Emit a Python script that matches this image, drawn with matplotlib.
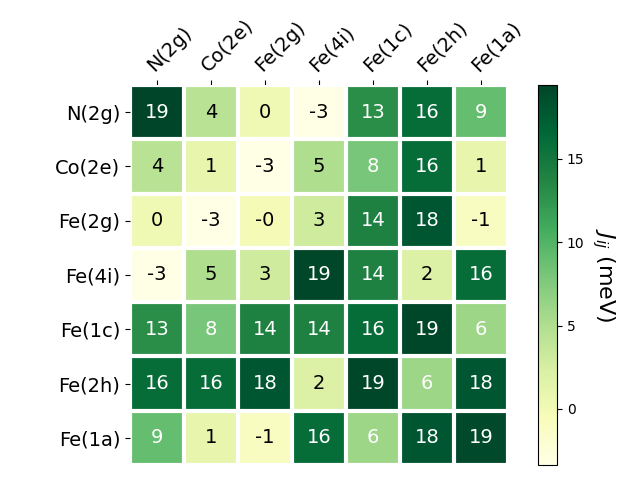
import numpy as np
import matplotlib
matplotlib.use("Agg")
import matplotlib.pyplot as plt

# サイト名
sites = ["N(2g)", "Co(2e)", "Fe(2g)", "Fe(4i)", "Fe(1c)", "Fe(2h)", "Fe(1a)"]

# 交換相互作用 J_ij (meV)
jij = np.array([
    [19.44, 4.3, 0.2, -3.3, 13.0, 16.0, 9.0],
    [4.3, 1.0, -3.36, 5.0, 8.0, 16.0, 1.0],
    [0.2, -3.36, -0.3, 3.0, 14.0, 18.0, -1.0],
    [-3.3, 5.0, 3.0, 19.3, 14.0, 2.0, 16.0],
    [13.0, 8.0, 14.0, 14.0, 16.0, 19.3, 6.0],
    [16.0, 16.0, 18.0, 2.0, 19.3, 6.0, 18.0],
    [9.0, 1.0, -1.0, 16.0, 6.0, 18.0, 19.0],
])

fig = plt.figure(figsize=(6.4, 4.8), dpi=100)
ax = fig.add_axes([130 / 640, 15 / 480, 378 / 640, 380 / 480])
cax = fig.add_axes([538 / 640, 15 / 480, 19 / 640, 380 / 480])

im = ax.imshow(jij, cmap="YlGn", aspect="auto")
cbar = fig.colorbar(im, cax=cax)
cbar.ax.set_ylabel("$J_{ij}$ (meV)", rotation=-90, va="bottom", fontsize=16)

ax.set_xticks(np.arange(len(sites)))
ax.set_yticks(np.arange(len(sites)))
ax.set_xticklabels(sites, fontsize=14)
ax.set_yticklabels(sites, fontsize=14)
ax.tick_params(top=True, bottom=False, labeltop=True, labelbottom=False)
plt.setp(ax.get_xticklabels(), rotation=45, ha="left", rotation_mode="anchor")

for s in ax.spines.values():
    s.set_visible(False)
ax.set_xticks(np.arange(len(sites) + 1) - .5, minor=True)
ax.set_yticks(np.arange(len(sites) + 1) - .5, minor=True)
ax.grid(which="minor", color="w", linestyle="-", linewidth=3)
ax.tick_params(which="minor", bottom=False, left=False, top=False)

# 値の注釈
threshold = 5.6
for i in range(len(sites)):
    for j in range(len(sites)):
        c = "white" if jij[i, j] > threshold else "black"
        ax.text(j, i, "{:.0f}".format(jij[i, j]), ha="center", va="center",
                color=c, fontsize=14)

fig.savefig("out.png")
